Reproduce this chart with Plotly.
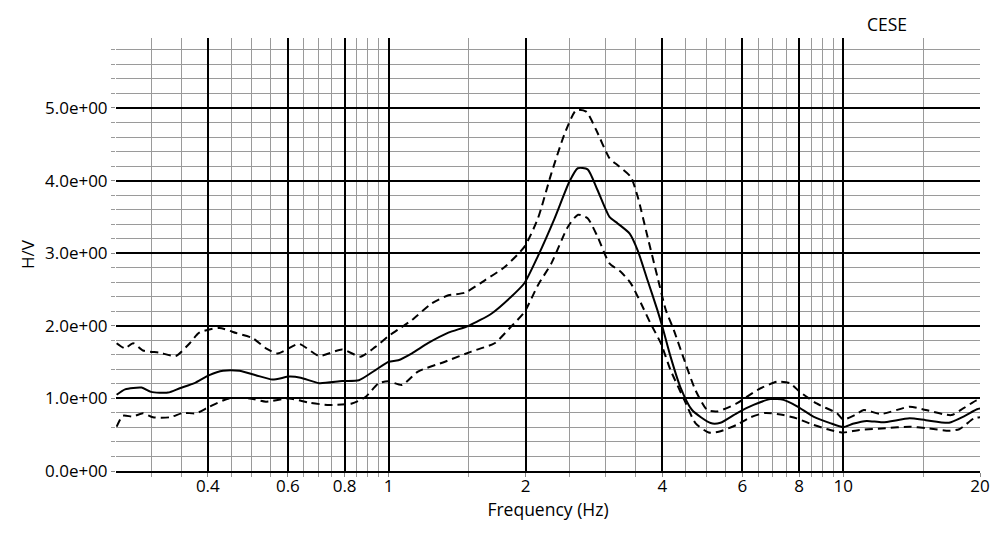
import math
import plotly.graph_objects as go

# ---- data ----
freq_mean = [0.252, 0.263, 0.286, 0.30, 0.327, 0.347, 0.374, 0.403, 0.432, 0.469, 0.51, 0.555,
             0.604, 0.64, 0.703, 0.79, 0.86, 0.935, 1.0, 1.05, 1.125, 1.22, 1.353, 1.5, 1.685,
             1.86, 1.99, 2.13, 2.318, 2.50, 2.606, 2.74, 2.88, 3.06, 3.19, 3.39, 3.53, 3.71,
             3.90, 4.0, 4.17, 4.38, 4.65, 5.11, 5.37, 5.83, 6.35, 6.92, 7.39, 7.90, 8.6, 9.36,
             10.0, 10.5, 11.27, 12.2, 14.0, 15.2, 17.1, 18.4, 19.7, 20.0]
hv_mean = [1.05, 1.125, 1.15, 1.09, 1.08, 1.14, 1.21, 1.32, 1.38, 1.38, 1.32, 1.26,
           1.30, 1.285, 1.21, 1.24, 1.25, 1.39, 1.505, 1.525, 1.62, 1.76, 1.905, 2.0, 2.17,
           2.40, 2.59, 2.96, 3.48, 3.99, 4.17, 4.155, 3.87, 3.50, 3.41, 3.27, 3.04, 2.63,
           2.22, 1.99, 1.575, 1.16, 0.84, 0.66, 0.665, 0.795, 0.91, 0.99, 0.98, 0.895, 0.75, 0.66,
           0.605, 0.65, 0.69, 0.67, 0.725, 0.70, 0.665, 0.75, 0.85, 0.86]

freq_upper = [0.252, 0.263, 0.274, 0.288, 0.313, 0.34, 0.365, 0.383, 0.424, 0.462, 0.502, 0.537,
              0.57, 0.635, 0.703, 0.79, 0.867, 0.935, 1.0, 1.05, 1.125, 1.245, 1.353, 1.47, 1.63,
              1.80, 1.99, 2.13, 2.28, 2.44, 2.585, 2.72, 2.86, 3.06, 3.19, 3.41, 3.53, 3.71, 3.90,
              4.07, 4.24, 4.47, 4.73, 5.02, 5.28, 5.83, 6.47, 7.15, 7.63, 8.03, 8.74, 9.69, 10.0,
              10.6, 11.1, 12.1, 14.0, 15.2, 17.3, 18.4, 19.6, 20.0]
hv_upper = [1.76, 1.69, 1.76, 1.66, 1.63, 1.585, 1.76, 1.905, 1.97, 1.90, 1.83, 1.69,
            1.62, 1.75, 1.585, 1.675, 1.575, 1.71, 1.86, 1.95, 2.08, 2.31, 2.42, 2.455, 2.63,
            2.81, 3.09, 3.48, 4.10, 4.65, 4.97, 4.95, 4.70, 4.31, 4.21, 4.05, 3.78, 3.23, 2.68,
            2.22, 1.94, 1.53, 1.115, 0.84, 0.82, 0.93, 1.115, 1.23, 1.21, 1.09, 0.93, 0.795, 0.71,
            0.77, 0.84, 0.785, 0.885, 0.84, 0.77, 0.865, 0.97, 0.98]

freq_lower = [0.252, 0.26, 0.274, 0.288, 0.303, 0.33, 0.353, 0.377, 0.403, 0.445, 0.494, 0.537,
              0.604, 0.668, 0.739, 0.83, 0.889, 0.951, 1.0, 1.07, 1.16, 1.33, 1.52, 1.71, 1.86,
              1.99, 2.13, 2.28, 2.48, 2.61, 2.74, 2.88, 3.06, 3.24, 3.41, 3.59, 3.77, 3.97, 4.17,
              4.47, 4.73, 5.06, 5.32, 5.83, 6.25, 6.74, 7.39, 7.90, 8.6, 9.36, 10.0, 10.85, 12.4,
              14.0, 15.2, 17.1, 18.0, 19.4, 20.0]
hv_lower = [0.61, 0.76, 0.75, 0.795, 0.74, 0.74, 0.80, 0.795, 0.885, 1.00, 1.00, 0.955,
            1.00, 0.94, 0.91, 0.93, 1.02, 1.21, 1.235, 1.185, 1.37, 1.505, 1.645, 1.76, 1.99,
            2.19, 2.56, 2.86, 3.365, 3.53, 3.48, 3.23, 2.86, 2.745, 2.585, 2.31, 2.03, 1.76, 1.39,
            0.98, 0.66, 0.53, 0.54, 0.635, 0.74, 0.80, 0.77, 0.725, 0.635, 0.565, 0.53, 0.565, 0.59,
            0.61, 0.59, 0.555, 0.575, 0.725, 0.74]

x_major = [0.4, 0.6, 0.8, 1, 2, 4, 6, 8, 10, 20]
x_major_text = ["0.4", "0.6", "0.8", "1", "2", "4", "6", "8", "10", "20"]
x_minor = [0.25, 0.3, 0.35, 0.45, 0.5, 0.55, 0.65, 0.7, 0.75, 0.85, 0.9, 0.95,
           1.5, 2.5, 3, 3.5, 4.5, 5, 5.5, 6.5, 7, 7.5, 8.5, 9, 9.5, 15]
y_major = [0, 1, 2, 3, 4, 5]
y_major_text = ["0.0e+00", "1.0e+00", "2.0e+00", "3.0e+00", "4.0e+00", "5.0e+00"]
y_minor = [round(i * 0.2, 1) for i in range(0, 30) if i % 5 != 0]

FONT = "Open Sans"

fig = go.Figure()
fig.add_trace(go.Scatter(x=freq_upper, y=hv_upper, mode="lines",
                         line=dict(color="black", width=2, dash="8px,5px", shape="spline", smoothing=0.6),
                         showlegend=False, hoverinfo="skip"))
fig.add_trace(go.Scatter(x=freq_lower, y=hv_lower, mode="lines",
                         line=dict(color="black", width=2, dash="8px,5px", shape="spline", smoothing=0.6),
                         showlegend=False, hoverinfo="skip"))
fig.add_trace(go.Scatter(x=freq_mean, y=hv_mean, mode="lines",
                         line=dict(color="black", width=2, shape="spline", smoothing=0.6),
                         showlegend=False, hoverinfo="skip"))

fig.update_layout(
    width=1002, height=538,
    margin=dict(l=116, r=18, t=38, b=67, pad=0),
    paper_bgcolor="white", plot_bgcolor="white",
    font=dict(family=FONT, size=17, color="black"),
    xaxis=dict(
        type="log", range=[math.log10(0.2512), math.log10(20)],
        tickmode="array", tickvals=x_major, ticktext=x_major_text,
        showgrid=True, gridcolor="black", gridwidth=2,
        ticks="outside", ticklen=4, tickcolor="#888", tickwidth=1,
        tickfont=dict(family=FONT, size=17), ticklabelstandoff=-5,
        showline=True, linecolor="black", linewidth=2,
        zeroline=False,
        minor=dict(tickvals=x_minor, showgrid=True, gridcolor="#9a9a9a", gridwidth=1,
                   ticks="outside", ticklen=4, tickcolor="#9a9a9a"),
        title=dict(text="Frequency (Hz)", font=dict(family=FONT, size=17.5), standoff=0),
    ),
    yaxis=dict(
        range=[0, 5.964],
        tickmode="array", tickvals=y_major, ticktext=y_major_text,
        showgrid=True, gridcolor="black", gridwidth=2,
        ticks="outside", ticklen=4, tickcolor="#888", tickwidth=1,
        tickfont=dict(family=FONT, size=17),
        zeroline=False, showline=False,
        minor=dict(tickvals=y_minor, showgrid=True, gridcolor="#9a9a9a", gridwidth=1,
                   ticks="outside", ticklen=4, tickcolor="#9a9a9a"),
        title=dict(text="H/V", font=dict(family=FONT, size=17), standoff=6),
    ),
    annotations=[dict(text="CESE", xref="paper", yref="paper", x=0.8925, y=1.0,
                      xanchor="center", yanchor="bottom", yshift=0, showarrow=False,
                      font=dict(family=FONT, size=17.5, color="black"))],
)

fig.write_html("out.html")
